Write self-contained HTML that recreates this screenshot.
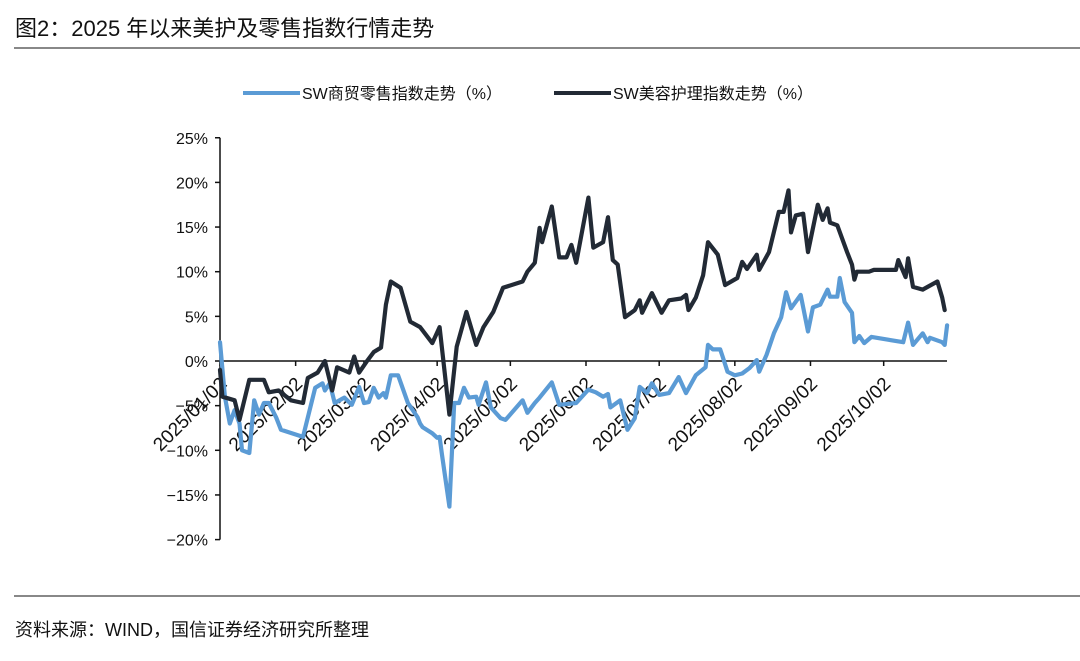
<!DOCTYPE html>
<html><head><meta charset="utf-8">
<style>
html,body{margin:0;padding:0;background:#fff;}
body{width:1080px;height:656px;overflow:hidden;position:relative;font-family:"Liberation Sans","Noto Sans CJK SC",sans-serif;}
</style></head>
<body>
<svg width="1080" height="656" viewBox="0 0 1080 656" xmlns="http://www.w3.org/2000/svg">
<text x="15" y="36" font-size="22" fill="#111" font-family="Liberation Sans, Noto Sans CJK SC, sans-serif">图2：2025 年以来美护及零售指数行情走势</text>
<line x1="14" y1="48" x2="1080" y2="48" stroke="#888" stroke-width="2"/>
<g>
<line x1="243" y1="93" x2="300" y2="93" stroke="#5b9bd5" stroke-width="4"/>
<text x="302" y="99" font-size="16" fill="#111">SW商贸零售指数走势（%）</text>
<line x1="554" y1="93" x2="611" y2="93" stroke="#222a35" stroke-width="4"/>
<text x="613" y="99" font-size="16" fill="#111">SW美容护理指数走势（%）</text>
</g>
<g id="axes"></g>
<g id="series"></g>
<line x1="14" y1="596" x2="1080" y2="596" stroke="#888" stroke-width="2"/>
<text x="15" y="636" font-size="18" fill="#111">资料来源：WIND，国信证券经济研究所整理</text>
</svg>
<script>
const yTicks=[25,20,15,10,5,0,-5,-10,-15,-20];
const monthLabels=["2025/01/02","2025/02/02","2025/03/02","2025/04/02","2025/05/02","2025/06/02","2025/07/02","2025/08/02","2025/09/02","2025/10/02"];
const monthDays=[0,31,59,89,119,150,180,211,242,272];
const beautyDays=[0,1,6,8,12,18,20,24,29,34,36,40,43,46,48,53,55,57,60,63,66,68,70,74,78,82,87,90,94,97,101,105,108,112,116,124,126,129,131,132,136,139,142,144,146,151,153,157,159,161,163,166,170,172,173,177,181,184,189,191,192,195,198,200,204,207,212,214,216,220,221,225,229,231,233,234,236,239,241,245,247,249,250,253,257,259,260,261,266,268,277,278,281,282,284,288,290,294,296,297];
const beautyVals=[-1,-4,-4.4,-6.6,-2.1,-2.1,-3.5,-3.3,-4.4,-4.7,-1.9,-1.3,0,-3.3,-0.7,-1.3,0.5,-1.3,-0.1,1.0,1.5,6.3,8.9,8.2,4.4,3.8,2.0,3.8,-6.0,1.6,5.5,1.8,3.8,5.5,8.2,8.9,10,11,14.9,13.3,17.3,11.6,11.6,13,11,18.3,12.7,13.3,16.1,11.3,10.8,4.9,5.7,6.8,5.4,7.6,5.4,6.8,7,7.4,5.7,7.1,9.6,13.3,11.9,8.5,9.3,11.1,10.3,11.9,10.2,12.2,16.7,16.7,19.1,14.4,16.3,16.5,12.2,17.5,15.8,17.1,15.5,15.2,12.2,10.8,9.1,10,10,10.2,10.2,11.3,9.4,11.5,8.3,8,8.3,8.9,7.1,5.7];
const retailDays=[0,2,4,6,8,9,12,14,16,18,20,23,25,34,39,42,43,45,47,51,54,57,59,61,63,65,67,68,70,73,77,81,82,83,87,89,90,91,94,96,98,100,102,105,106,109,111,115,117,124,126,129,131,136,139,146,151,154,157,159,160,164,166,167,170,172,175,177,180,184,188,191,195,199,200,202,205,206,208,211,214,217,220,221,224,227,230,232,234,238,241,243,246,249,250,253,254,256,259,260,262,264,267,280,282,284,288,290,291,296,297,298];
const retailVals=[2.1,-4,-7,-5.5,-7,-10,-10.3,-4.4,-6,-4.7,-4.7,-6.3,-7.7,-8.5,-3,-2.5,-3.3,-2.5,-4.7,-4.1,-4.9,-2.9,-4.7,-4.6,-3,-4.1,-3.6,-4.1,-1.6,-1.6,-4.7,-6.3,-7,-7.4,-8.1,-8.6,-8.5,-10.5,-16.3,-4.7,-4.7,-3,-4.1,-4,-4.9,-2.4,-5.2,-6.4,-6.6,-4.4,-5.8,-4.7,-4.1,-2.4,-4.9,-4.7,-3.2,-3.5,-4,-3.7,-5.2,-4.4,-6.6,-7.7,-6.4,-2.9,-3.6,-2.5,-3.8,-3.6,-1.8,-3.6,-1.6,-0.7,1.8,1.3,1.3,0.5,-1.2,-1.6,-1.4,-0.8,0.1,-1.2,0.7,3.1,4.9,7.7,5.9,7.4,3.3,6,6.3,8,7.2,7.2,9.3,6.6,5.4,2.1,2.8,2,2.7,2.1,4.3,1.8,3.1,2.1,2.6,2.1,1.8,4.0];

const NS="http://www.w3.org/2000/svg";
const X0=220, PXD=2.44, Y0=361, PXP=8.93;
function xs(d){return X0+d*PXD;}
function ys(v){return Y0-v*PXP;}
const axes=document.getElementById('axes');
const series=document.getElementById('series');
function mk(tag,attrs,parent){const e=document.createElementNS(NS,tag);for(const k in attrs)e.setAttribute(k,attrs[k]);parent.appendChild(e);return e;}

const yAxis=mk('line',{x1:X0,y1:ys(25),x2:X0,y2:ys(-20),stroke:'#111','stroke-width':1.5},axes);


yTicks.forEach(v=>{
  const t=mk('line',{x1:X0-5,y1:ys(v),x2:X0,y2:ys(v),stroke:'#111','stroke-width':1.5},axes);
  
  
  const l=mk('text',{x:X0-12,y:ys(v)+6,'font-size':16,'text-anchor':'end',fill:'#111'},axes);
  l.textContent=(v<0?'\u2212'+(-v):v)+'%';
  
  
});
const xAxis=mk('line',{x1:X0,y1:Y0,x2:947,y2:Y0,stroke:'#111','stroke-width':1.5},axes);


monthDays.forEach((d,i)=>{
  const x=xs(d);
  const t=mk('line',{x1:x,y1:Y0,x2:x,y2:Y0+5,stroke:'#111','stroke-width':1.5},axes);
  
  
  const l=mk('text',{x:x+8,y:Y0+24,'font-size':19,'text-anchor':'end',fill:'#111',transform:`rotate(-45 ${x+8} ${Y0+24})`},axes);
  l.textContent=monthLabels[i];
  
  
});
function line(days,vals,color,name){
  const d=days.map((dd,i)=>(i?'L':'M')+xs(dd).toFixed(1)+' '+ys(vals[i]).toFixed(1)).join(' ');
  const p=mk('path',{d:d,fill:'none',stroke:color,'stroke-width':4.2,'stroke-linejoin':'round','stroke-linecap':'round'},series);
  
  
}
line(retailDays,retailVals,'#5b9bd5','retail-index-line');
line(beautyDays,beautyVals,'#222a35','beauty-index-line');
</script>
</body></html>
